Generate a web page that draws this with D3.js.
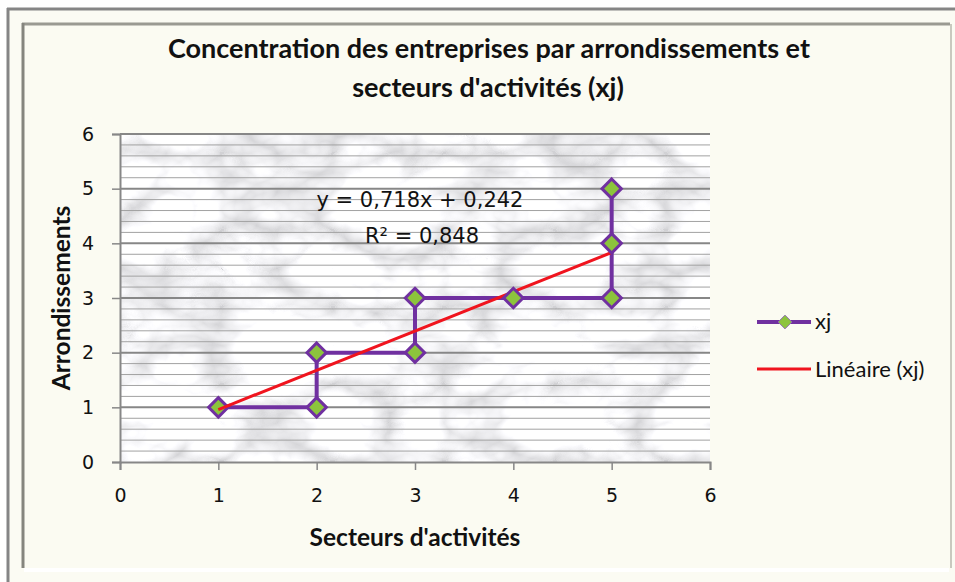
<!DOCTYPE html>
<html>
<head>
<meta charset="utf-8">
<script src="https://cdn.jsdelivr.net/npm/d3@7"></script>
<style>
  body { margin: 0; background: #ffffff; }
  svg text { font-family: "DejaVu Sans", Verdana, sans-serif; fill: #111; }
</style>
</head>
<body>
<div id="chart"></div>
<script>
// data
const secteurs = [1, 2, 2, 3, 3, 4, 5, 5, 5];
const arrondissements = [1, 1, 2, 2, 3, 3, 3, 4, 5];
const trendSlope = 0.718;
const trendIntercept = 0.242;
const trendR2 = 0.848;
const xTicks = [0, 1, 2, 3, 4, 5, 6];
const yTicks = [0, 1, 2, 3, 4, 5, 6];
const seriesName = "xj";
const trendName = "Linéaire (xj)";

const width = 955, height = 582;
const margin = { left: 120, right: 245, top: 134, bottom: 120 };

const svg = d3.select("#chart").append("svg")
    .attr("width", width)
    .attr("height", height);

const defs = svg.append("defs");

// marble-ish texture for the plot area
const marble = defs.append("filter").attr("id", "marble")
    .attr("x", 0).attr("y", 0).attr("width", 1).attr("height", 1);
marble.append("feTurbulence")
    .attr("type", "turbulence")
    .attr("baseFrequency", "0.009 0.013")
    .attr("numOctaves", 4)
    .attr("seed", 11)
    .attr("result", "noise");
marble.append("feColorMatrix")
    .attr("in", "noise")
    .attr("type", "matrix")
    .attr("values", "1.0 0 0 0 0.64  1.0 0 0 0 0.64  1.0 0 0 0 0.66  0 0 0 0 1");

defs.append("clipPath").attr("id", "plotClip")
  .append("rect")
    .attr("x", margin.left).attr("y", margin.top)
    .attr("width", width - margin.left - margin.right)
    .attr("height", height - margin.top - margin.bottom);

// outer frame
svg.append("rect").attr("x", 0).attr("y", 0).attr("width", width).attr("height", height).attr("fill", "#ffffff");
svg.append("rect").attr("x", 8).attr("y", 9).attr("width", 947).attr("height", 573)
    .attr("fill", "#fbfbf3");
svg.append("line").attr("x1", 7).attr("x2", 955).attr("y1", 9).attr("y2", 9).attr("stroke", "#858585").attr("stroke-width", 3);
svg.append("line").attr("x1", 8).attr("x2", 8).attr("y1", 8).attr("y2", 582).attr("stroke", "#858585").attr("stroke-width", 3);
svg.append("rect").attr("x", 22).attr("y", 24).attr("width", 930).attr("height", 545)
    .attr("fill", "#fbfbf2");
svg.append("line").attr("x1", 22).attr("x2", 950).attr("y1", 24).attr("y2", 24).attr("stroke", "#9a9a92").attr("stroke-width", 3);
svg.append("line").attr("x1", 23).attr("x2", 23).attr("y1", 23).attr("y2", 568).attr("stroke", "#85857e").attr("stroke-width", 3);
svg.append("line").attr("x1", 951).attr("x2", 951).attr("y1", 24).attr("y2", 568).attr("stroke", "#c9c9bf").attr("stroke-width", 2);
svg.append("rect").attr("x", 24).attr("y", 568).attr("width", 925).attr("height", 4).attr("fill", "#ffffff");

const x = d3.scaleLinear().domain([0, 6]).range([margin.left, width - margin.right]);
const y = d3.scaleLinear().domain([0, 6]).range([height - margin.bottom, margin.top]);

// plot background
svg.append("rect")
    .attr("x", x(0)).attr("y", y(6))
    .attr("width", x(6) - x(0)).attr("height", y(0) - y(6))
    .attr("filter", "url(#marble)");

// minor gridlines
const minor = d3.range(0, 6.001, 0.2).filter(v => Math.abs(v - Math.round(v)) > 0.01);
svg.append("g").selectAll("line").data(minor).join("line")
    .attr("x1", x(0)).attr("x2", x(6))
    .attr("y1", d => y(d)).attr("y2", d => y(d))
    .attr("stroke", "#a2a2a2").attr("stroke-width", 1);

// major gridlines
svg.append("g").selectAll("line").data(yTicks.slice(1)).join("line")
    .attr("x1", x(0)).attr("x2", x(6))
    .attr("y1", d => y(d)).attr("y2", d => y(d))
    .attr("stroke", "#878787").attr("stroke-width", 2);

// axes
const yAxis = svg.append("g")
    .attr("transform", `translate(${x(0)},0)`)
    .call(d3.axisLeft(y).tickValues(yTicks).tickFormat(d3.format("d")).tickSize(8).tickPadding(18));
const xAxis = svg.append("g")
    .attr("transform", `translate(0,${y(0)})`)
    .call(d3.axisBottom(x).tickValues(xTicks).tickFormat(d3.format("d")).tickSize(8).tickPadding(19));
[xAxis, yAxis].forEach(a => {
    a.select(".domain").attr("stroke", "#878787").attr("stroke-width", 2);
    a.selectAll(".tick line").attr("stroke", "#878787").attr("stroke-width", 1.5);
    a.selectAll(".tick text")
        .style("font-family", "'DejaVu Sans', sans-serif")
        .style("font-size", "19px").attr("fill", "#111");
});

const plot = svg.append("g").attr("clip-path", "url(#plotClip)");

// series line
const pts = secteurs.map((s, i) => [s, arrondissements[i]]);
plot.append("path")
    .datum(pts)
    .attr("fill", "none")
    .attr("stroke", "#7030a0")
    .attr("stroke-width", 4)
    .attr("d", d3.line().x(d => x(d[0])).y(d => y(d[1])));

// trendline
const tx = d3.extent(secteurs);
plot.append("line")
    .attr("x1", x(tx[0])).attr("y1", y(trendSlope * tx[0] + trendIntercept))
    .attr("x2", x(tx[1])).attr("y2", y(trendSlope * tx[1] + trendIntercept))
    .attr("stroke", "#f0141e").attr("stroke-width", 3);

// markers
const diamond = d3.symbol().type(d3.symbolDiamond2).size(240);
svg.append("g").selectAll("path").data(pts).join("path")
    .attr("transform", d => `translate(${x(d[0])},${y(d[1])})`)
    .attr("d", diamond)
    .attr("fill", "#8cc43c")
    .attr("stroke", "#7030a0")
    .attr("stroke-width", 3);

// put the trendline start above the first marker, as in the picture
svg.append("line")
    .attr("x1", x(tx[0])).attr("y1", y(trendSlope * tx[0] + trendIntercept))
    .attr("x2", x(tx[0] + 0.12)).attr("y2", y(trendSlope * (tx[0] + 0.12) + trendIntercept))
    .attr("stroke", "#f0141e").attr("stroke-width", 3);

// equation label
const fmt = v => v.toFixed(3).replace(".", ",");
svg.append("text")
    .attr("x", 420).attr("y", y(4.665))
    .attr("text-anchor", "middle")
    .style("font-size", "21px")
    .text(`y = ${fmt(trendSlope)}x + ${fmt(trendIntercept)}`);
svg.append("text")
    .attr("x", 422).attr("y", y(4.006))
    .attr("text-anchor", "middle")
    .style("font-size", "21px")
    .text(`R² = ${fmt(trendR2)}`);

// title
const title = svg.append("text")
    .attr("text-anchor", "middle")
    .style("font-family", "Lato, 'Open Sans', sans-serif")
    .style("font-weight", "bold")
    .style("font-size", "27px");
title.append("tspan").attr("x", 489).attr("y", 58).text("Concentration des entreprises par arrondissements et");
title.append("tspan").attr("x", 488).attr("y", 97).text("secteurs d'activités (xj)");

// axis titles
svg.append("text")
    .attr("x", 415).attr("y", 546)
    .attr("text-anchor", "middle")
    .style("font-family", "Lato, 'Open Sans', sans-serif")
    .style("font-weight", "bold").style("font-size", "24.5px")
    .text("Secteurs d'activités");
svg.append("text")
    .attr("transform", `translate(70,${y(3)}) rotate(-90)`)
    .attr("text-anchor", "middle")
    .style("font-family", "Lato, 'Open Sans', sans-serif")
    .style("font-weight", "bold").style("font-size", "24.5px")
    .text("Arrondissements");

// legend
const legend = svg.append("g").attr("transform", "translate(757,322)");
legend.append("line").attr("x1", 0).attr("x2", 54).attr("y1", 0).attr("y2", 0)
    .attr("stroke", "#7030a0").attr("stroke-width", 4);
legend.append("path").attr("transform", "translate(28,0)")
    .attr("d", d3.symbol().type(d3.symbolDiamond2).size(120))
    .attr("fill", "#8cc43c").attr("stroke", "#9070b0").attr("stroke-width", 1);
legend.append("text").attr("x", 58).attr("y", 7)
    .style("font-family", "Lato, 'Open Sans', sans-serif").style("font-size", "22px").text(seriesName);
legend.append("line").attr("x1", 0).attr("x2", 54).attr("y1", 47).attr("y2", 47)
    .attr("stroke", "#f0141e").attr("stroke-width", 3);
legend.append("text").attr("x", 58).attr("y", 55)
    .style("font-family", "Lato, 'Open Sans', sans-serif").style("font-size", "22px").text(trendName);
</script>
</body>
</html>
